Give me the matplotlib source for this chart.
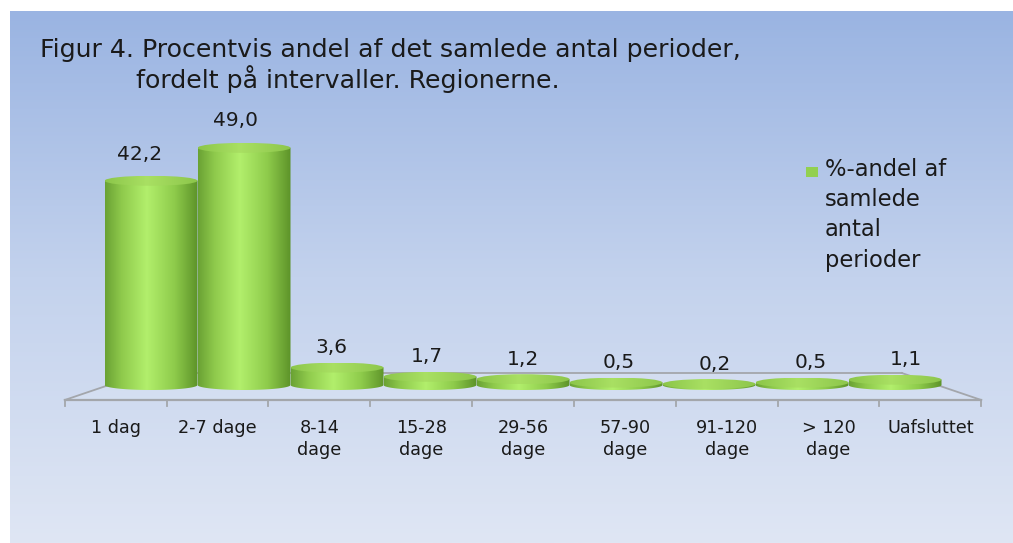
import numpy as np
import matplotlib
matplotlib.use("Agg")
import matplotlib.pyplot as plt
from matplotlib.colors import LinearSegmentedColormap
from matplotlib.path import Path
from matplotlib.patches import PathPatch, Ellipse, Rectangle

categories = ["1 dag", "2-7 dage", "8-14\ndage", "15-28\ndage", "29-56\ndage",
              "57-90\ndage", "91-120\ndage", "> 120\ndage", "Uafsluttet"]
values = [42.2, 49.0, 3.6, 1.7, 1.2, 0.5, 0.2, 0.5, 1.1]
value_labels = ["42,2", "49,0", "3,6", "1,7", "1,2", "0,5", "0,2", "0,5", "1,1"]
title_lines = ["Figur 4. Procentvis andel af det samlede antal perioder,",
               "fordelt på intervaller. Regionerne."]
legend_label = "%-andel af\nsamlede\nantal\nperioder"

W, H = 1013, 543
fig = plt.figure(figsize=(W / 100, H / 100), dpi=100)
fig.patch.set_facecolor("white")

# background gradient panel
bg = fig.add_axes([0, 0, 1, 1])
bg.set_xlim(0, W)
bg.set_ylim(H, 0)
bg.axis("off")
grad = np.linspace(0, 1, 256).reshape(-1, 1)
bg_cmap = LinearSegmentedColormap.from_list("bg", ["#9ab4e2", "#c3d2ed", "#dfe6f4"])
bg.imshow(grad, cmap=bg_cmap, extent=(10, W, H, 11), aspect="auto", zorder=0)

# main axes: x in category units, y in value units (0 at bar base)
px_x0, px_w = 104.5, 93.0      # bar slot origin and width in pixels
px_y0, px_v = 158.0, 4.84      # base height from bottom and pixels per unit
ax = fig.add_axes([0, 0, 1, 1])
ax.patch.set_alpha(0)
ax.set_xlim(-px_x0 / px_w, (W - px_x0) / px_w)
ax.set_ylim(-px_y0 / px_v, (H - px_y0) / px_v)
ax.axis("off")

n = len(values)
cx = n / 2
front, back = -3.1, 2.48
s_front, s_back = 1.095, 0.905


def persp(x, s):
    return cx + (x - cx) * s


# floor
floor_c = "#a3a6ab"
fl = [(persp(0, s_front), front), (persp(n, s_front), front),
      (persp(n, s_back), back), (persp(0, s_back), back)]
ax.add_patch(plt.Polygon(fl, closed=True, facecolor="white", alpha=0.12,
                         edgecolor="none", zorder=1))
ax.plot([fl[3][0], fl[2][0]], [back, back], color=floor_c, lw=1.3, zorder=1)
ax.plot([fl[0][0], fl[3][0]], [front, back], color=floor_c, lw=1.3, zorder=1)
ax.plot([fl[1][0], fl[2][0]], [front, back], color=floor_c, lw=1.3, zorder=1)
ax.plot([fl[0][0], fl[1][0]], [front, front], color=floor_c, lw=1.6, zorder=6)
tick_len = 6 / px_v
for k in range(n + 1):
    tx = persp(k, s_front)
    ax.plot([tx, tx], [front, front - tick_len], color=floor_c, lw=1.3, zorder=6)

# category labels
for k, lab in enumerate(categories):
    ax.text(persp(k + 0.5, s_front), front - 19 / px_v, lab, ha="center", va="top",
            fontsize=12.7, color="#1a1a1a", linespacing=1.28, zorder=7)

# cylinders
body_cmap = LinearSegmentedColormap.from_list(
    "body", [(0, "#6aa234"), (0.18, "#8fca4c"), (0.45, "#b2ef6c"),
             (0.75, "#8ecb4b"), (1, "#5d9329")])
cap_cmap = LinearSegmentedColormap.from_list(
    "cap", [(0, "#8cc64a"), (0.45, "#a9e063"), (1, "#8dc64b")])
b = 5.0 / px_v
hgrad = np.linspace(0, 1, 256).reshape(1, -1)
theta = np.linspace(np.pi, 2 * np.pi, 60)
for i, v in enumerate(values):
    x0, x1 = i, i + 1
    xc, rx = i + 0.5, 0.5
    verts = [(x0, v), (x0, 0)]
    verts += list(zip(xc + rx * np.cos(theta), b * np.sin(theta)))
    verts += [(x1, 0), (x1, v), (x0, v)]
    path = Path(verts)
    clip = PathPatch(path, facecolor="none", edgecolor="none")
    ax.add_patch(clip)
    im = ax.imshow(hgrad, cmap=body_cmap, extent=(x0, x1, -b - 0.2, v + 0.1),
                   aspect="auto", zorder=3 + i * 0.01, interpolation="bilinear")
    im.set_clip_path(clip)
    cap = Ellipse((xc, v), 1.0, 2 * b, facecolor="none", edgecolor="none")
    ax.add_patch(cap)
    im2 = ax.imshow(hgrad, cmap=cap_cmap, extent=(x0, x1, v - b, v + b),
                    aspect="auto", zorder=3.005 + i * 0.01, interpolation="bilinear")
    im2.set_clip_path(cap)
    # value label
    ly = v + (19.5 + 0.17 * v) / px_v
    ax.text(persp(xc, 1.03), ly, value_labels[i], ha="center", va="center",
            fontsize=14.5, color="#1a1a1a", zorder=8)

# title
fig.text(40 / W, 1 - 57 / H, title_lines[0], fontsize=18.2, color="#1a1a1a",
         ha="left", va="baseline")
fig.text(136 / W, 1 - 88 / H, title_lines[1], fontsize=18.2, color="#1a1a1a",
         ha="left", va="baseline")

# legend
fig.patches.append(Rectangle((806 / W, 1 - 177 / H), 12 / W, 10 / H,
                             transform=fig.transFigure, facecolor="#92d050",
                             edgecolor="none"))
fig.text(825 / W, 1 - 158 / H, legend_label, fontsize=16.3, color="#1a1a1a",
         ha="left", va="top", linespacing=1.4)

fig.savefig("out.png", dpi=100)
